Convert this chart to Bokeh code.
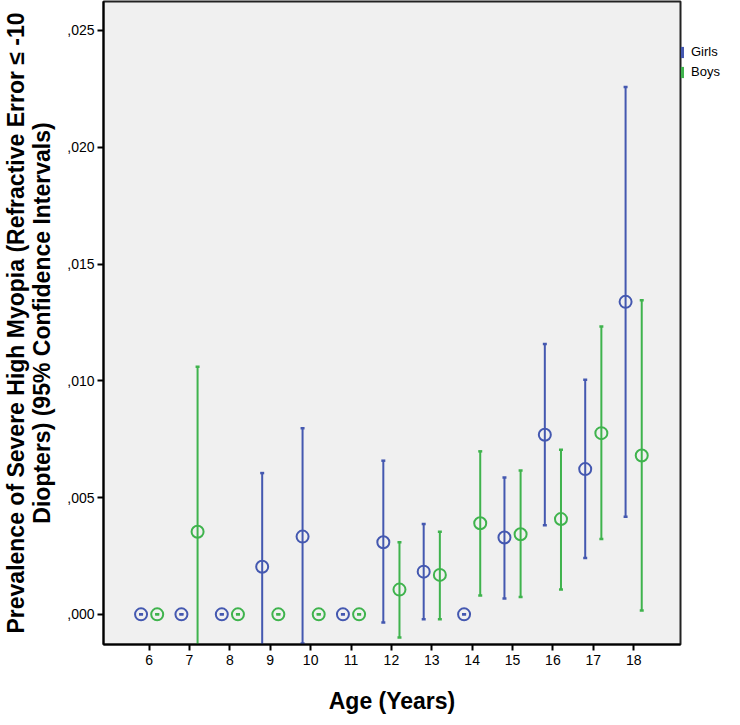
from bokeh.plotting import figure
from bokeh.models import FixedTicker, Range1d, ColumnDataSource, Legend, LegendItem
from bokeh.embed import file_html
from bokeh.resources import INLINE

# ---- data ----
ages = [6, 7, 8, 9, 10, 11, 12, 13, 14, 15, 16, 17, 18]

girls_mean = [0.0, 0.0, 0.0, 0.00204, 0.00333, 0.0, 0.00309, 0.00183, 0.0, 0.00329, 0.00769, 0.00622, 0.01338]
girls_low = [0.0, 0.0, 0.0, -0.0020, -0.00125, 0.0, -0.00035, -0.00021, 0.0, 0.00068, 0.00382, 0.00241, 0.00418]
girls_high = [0.0, 0.0, 0.0, 0.00605, 0.00797, 0.0, 0.00658, 0.00387, 0.0, 0.00586, 0.01158, 0.01005, 0.02258]

boys_mean = [0.0, 0.00354, 0.0, 0.0, 0.0, 0.0, 0.00106, 0.00169, 0.0039, 0.00343, 0.00408, 0.00776, 0.0068]
boys_low = [0.0, -0.0035, 0.0, 0.0, 0.0, 0.0, -0.00099, -0.00021, 0.00081, 0.00074, 0.00106, 0.00323, 0.00017]
boys_high = [0.0, 0.0106, 0.0, 0.0, 0.0, 0.0, 0.00309, 0.00354, 0.00698, 0.00616, 0.00705, 0.01232, 0.01345]

y_ticks = [0.0, 0.005, 0.010, 0.015, 0.020, 0.025]
y_tick_labels = [",000", ",005", ",010", ",015", ",020", ",025"]

series_names = ["Girls", "Boys"]
series_offsets = [-0.2, 0.2]
series_colors = ["#4458B0", "#3FB34D"]

FONT = "Liberation Sans"

p = figure(frame_width=577, frame_height=643, output_backend="svg", toolbar_location=None,
           x_range=Range1d(4.87, 19.16), y_range=Range1d(-0.00129, 0.02624),
           min_border_left=94, min_border_right=59, min_border_top=1, min_border_bottom=68)

p.background_fill_color = "#F0F0F0"
p.border_fill_color = "white"
p.outline_line_color = "#222222"
p.outline_line_width = 2
p.xgrid.visible = False
p.ygrid.visible = False

series = [(girls_mean, girls_low, girls_high), (boys_mean, boys_low, boys_high)]
legend_items = []
for (mean, low, high), off, col, name in zip(series, series_offsets, series_colors, series_names):
    xs = [a + off for a in ages]
    src = ColumnDataSource(dict(x=xs, mean=mean, low=low, high=high))
    p.segment(x0="x", y0="low", x1="x", y1="high", source=src, line_color=col, line_width=2)
    p.scatter(x="x", y="low", source=src, marker="dash", size=4, line_color=col, line_width=2.5)
    p.scatter(x="x", y="high", source=src, marker="dash", size=4, line_color=col, line_width=2.5)
    p.scatter(x="x", y="mean", source=src, marker="circle", size=12, line_color=col,
              line_width=2, fill_alpha=0)
    # zero-width bars over the same intervals: invisible in the plot, drawn as the legend icon
    icon = p.vbar(x="x", bottom="low", top="high", width=0, source=src,
                  fill_color=col, line_color=None)
    legend_items.append(LegendItem(label=name, renderers=[icon]))

legend = Legend(items=legend_items, location="top_left", margin=0, padding=10, spacing=5,
                title=" ", title_text_font_size="16px", title_standoff=25,
                glyph_width=4, glyph_height=14, label_height=14, label_standoff=7,
                label_text_font=FONT, label_text_font_size="13px", label_text_color="black",
                border_line_color=None, background_fill_alpha=0)
p.add_layout(legend, "right")

# axes
p.xaxis.ticker = FixedTicker(ticks=ages)
p.yaxis.ticker = FixedTicker(ticks=y_ticks)
p.yaxis.major_label_overrides = {t: l for t, l in zip(y_ticks, y_tick_labels)}
for ax in (p.xaxis[0], p.yaxis[0]):
    ax.axis_line_width = 2
    ax.axis_line_color = "black"
    ax.major_tick_line_width = 2
    ax.major_tick_line_color = "black"
    ax.major_tick_out = 6
    ax.major_tick_in = 0
    ax.minor_tick_line_color = None
    ax.major_label_text_font = FONT
    ax.major_label_text_font_size = "14px"
    ax.major_label_text_color = "black"
    ax.axis_label_text_font = FONT
    ax.axis_label_text_font_style = "bold"
    ax.axis_label_text_color = "black"

p.xaxis.axis_label = "Age (Years)"
p.xaxis.axis_label_text_font_size = "23px"
p.xaxis.major_label_standoff = 4
p.xaxis.axis_label_standoff = 20
p.yaxis.axis_label = "Prevalence of Severe High Myopia (Refractive Error \u2264 -10\nDiopters) (95% Confidence Intervals)"
p.yaxis.axis_label_text_font_size = "23px"
p.yaxis.axis_label_text_line_height = 1.0
p.yaxis.major_label_standoff = 3
p.yaxis.axis_label_standoff = 9

open("out.html", "w").write(file_html(p, INLINE))
